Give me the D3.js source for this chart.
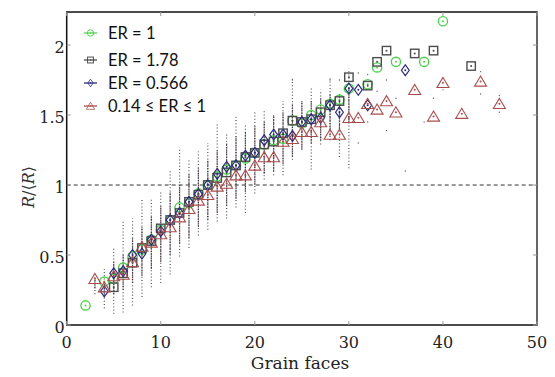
<!DOCTYPE html>
<html><head><meta charset="utf-8">
<script src="https://cdn.jsdelivr.net/npm/d3@7/dist/d3.min.js"></script>
<style>body{margin:0;background:#fff}svg{display:block}</style>
</head><body><svg id="c" width="555" height="377"></svg>
<script>
// ---------- data ----------
const xTicks = [0, 10, 20, 30, 40, 50];
const yTicks = [0, 0.5, 1, 1.5, 2];
const yTickLabels = ["0", "0.5", "1", "1.5", "2"];
const legendLabels = ["ER = 1", "ER = 1.78", "ER = 0.566", "0.14 \u2264 ER \u2264 1"];

const er1Faces = [2,4,5,6,7,8,9,10,11,12,13,14,15,16,17,18,19,20,21,22,23,24,25,26,27,28,29,30,32,33,35,38,40];
const er1Vals  = [0.14,0.31,0.33,0.41,0.49,0.54,0.61,0.68,0.75,0.84,0.87,0.94,1.00,1.06,1.11,1.14,1.19,1.23,1.29,1.32,1.33,1.46,1.44,1.50,1.54,1.58,1.61,1.69,1.72,1.84,1.88,1.88,2.17];

const er178Faces = [5,6,7,8,9,10,11,12,13,14,15,16,17,18,19,20,21,22,23,24,25,26,27,28,29,30,32,33,34,37,39,43];
const er178Vals  = [0.27,0.37,0.445,0.55,0.60,0.69,0.75,0.80,0.88,0.93,1.00,1.05,1.09,1.14,1.20,1.23,1.29,1.31,1.37,1.46,1.45,1.47,1.52,1.57,1.60,1.77,1.71,1.88,1.96,1.94,1.96,1.85];

const er566Faces = [4,5,6,7,8,9,10,11,12,13,14,15,16,17,18,19,20,21,22,23,24,25,26,27,28,29,30,31,32,36];
const er566Vals  = [0.24,0.37,0.385,0.50,0.51,0.61,0.67,0.75,0.80,0.88,0.935,1.00,1.08,1.13,1.14,1.21,1.23,1.32,1.36,1.36,1.35,1.45,1.47,1.48,1.57,1.52,1.69,1.68,1.57,1.82];

const rangeFaces = [3,4,5,6,7,8,9,10,11,12,13,14,15,16,17,18,19,20,21,22,23,24,25,26,27,28,29,30,31,32,33,34,35,37,39,40,42,44,46];
const rangeVals  = [0.33,0.27,0.35,0.36,0.45,0.56,0.59,0.65,0.70,0.77,0.83,0.89,0.93,0.99,1.01,1.07,1.07,1.14,1.20,1.20,1.31,1.33,1.38,1.38,1.45,1.36,1.36,1.48,1.48,1.58,1.54,1.60,1.52,1.68,1.49,1.73,1.51,1.74,1.58];

// individual-grain scatter columns (range of dots per face count)
const colFaces = [3,4,5,6,7,8,9,10,11,12,13,14,15,16,17,18,19,20,21,22,23,24,25,26,27,28,29,30];
const colLow   = [0.22,0.12,0.08,0.09,0.14,0.20,0.27,0.30,0.36,0.49,0.55,0.64,0.68,0.74,0.76,0.84,0.80,0.94,1.04,1.07,1.07,1.18,1.26,1.11,1.29,1.32,1.20,1.12];
const colHigh  = [0.36,0.40,0.56,0.74,0.76,0.90,0.91,0.96,1.10,1.27,1.18,1.24,1.30,1.44,1.36,1.49,1.44,1.52,1.54,1.50,1.60,1.76,1.60,1.70,1.68,1.77,1.61,1.83];
const coreLow  = [0.26,0.20,0.22,0.25,0.30,0.35,0.40,0.45,0.50,0.58,0.62,0.70,0.75,0.80,0.85,0.90,0.95,1.00,1.08,1.10,1.15,1.20,1.25,1.30,1.32,1.38,1.40,1.45];
const coreHigh = [0.33,0.32,0.45,0.50,0.62,0.70,0.78,0.85,0.95,1.00,1.08,1.12,1.18,1.25,1.30,1.35,1.38,1.42,1.45,1.50,1.52,1.58,1.60,1.60,1.62,1.65,1.65,1.70];
const sparseFaces = [24,28,29,31,31,32,32,33,34,34,36,39,40,44,44,46,46,35,38];
const sparseVals  = [1.75,1.75,1.75,1.80,1.30,1.79,1.45,1.67,1.75,1.39,1.10,1.62,1.68,1.81,1.65,1.64,1.52,1.62,1.45];

// ---------- layout ----------
const W = 555, H = 377;
const L = 66.7, R = 537, T = 12, B = 325;
const x = d3.scaleLinear().domain([0, 50]).range([L, R]);
const y = d3.scaleLinear().domain([0, 2.236]).range([B, T]);
const svg = d3.select("#c");
svg.append("rect").attr("width", W).attr("height", H).attr("fill", "#fff");

const serif = "'DejaVu Serif', serif";

// dashed reference line
svg.append("line").attr("x1", x(0)).attr("x2", x(50)).attr("y1", y(1)).attr("y2", y(1))
  .attr("stroke", "#333").attr("stroke-width", 1).attr("stroke-dasharray", "4,3");

// scatter columns
const gCols = svg.append("g");
colFaces.forEach((f, i) => {
  gCols.append("line").attr("x1", x(f)).attr("x2", x(f)).attr("y1", y(colLow[i])).attr("y2", y(colHigh[i]))
    .attr("stroke", "#555").attr("stroke-width", 1.2).attr("stroke-dasharray", "1,2.2");
  gCols.append("line").attr("x1", x(f)).attr("x2", x(f)).attr("y1", y(coreLow[i])).attr("y2", y(coreHigh[i]))
    .attr("stroke", "#3a2233").attr("stroke-width", 1.2).attr("stroke-dasharray", "1.6,0.8").attr("opacity", 0.8);
});
sparseFaces.forEach((f, i) => {
  gCols.append("circle").attr("cx", x(f)).attr("cy", y(sparseVals[i])).attr("r", 0.7).attr("fill", "#666");
});

// marker shapes
function drawMarker(g, kind, cx, cy, color) {
  if (kind === "circle") {
    g.append("circle").attr("cx", cx).attr("cy", cy).attr("r", 4.6)
      .attr("fill", "none").attr("stroke", color).attr("stroke-width", 1.4);
  } else if (kind === "square") {
    g.append("rect").attr("x", cx - 4.2).attr("y", cy - 4.2).attr("width", 8.4).attr("height", 8.4)
      .attr("fill", "none").attr("stroke", color).attr("stroke-width", 1.4);
  } else if (kind === "diamond") {
    g.append("path").attr("d", `M${cx},${cy-5.4}L${cx+3.9},${cy}L${cx},${cy+5.4}L${cx-3.9},${cy}Z`)
      .attr("fill", "none").attr("stroke", color).attr("stroke-width", 1.2);
  } else {
    g.append("path").attr("d", `M${cx},${cy-5.4}L${cx+6},${cy+4.7}L${cx-6},${cy+4.7}Z`)
      .attr("fill", "none").attr("stroke", color).attr("stroke-width", 1.1);
  }
  g.append("circle").attr("cx", cx).attr("cy", cy).attr("r", 1).attr("fill", color);
}

const series = [
  {faces: er1Faces, vals: er1Vals, kind: "circle", color: "#4fd24f"},
  {faces: er178Faces, vals: er178Vals, kind: "square", color: "#4d4d4d"},
  {faces: er566Faces, vals: er566Vals, kind: "diamond", color: "#2b2b7d"},
  {faces: rangeFaces, vals: rangeVals, kind: "triangle", color: "#a84c4c"}
];
const gM = svg.append("g");
series.forEach(s => {
  s.faces.forEach((f, i) => drawMarker(gM, s.kind, x(f), y(s.vals[i]), s.color));
});

// frame
svg.append("rect").attr("x", L).attr("y", T).attr("width", R - L).attr("height", B - T)
  .attr("fill", "none").attr("stroke", "#111").attr("stroke-width", 1.5);
svg.append("line").attr("x1", R).attr("x2", R).attr("y1", T).attr("y2", B).attr("stroke", "#666").attr("stroke-width", 2);

// ticks (inside)
xTicks.forEach(t => {
  svg.append("line").attr("x1", x(t)).attr("x2", x(t)).attr("y1", B).attr("y2", B - 4).attr("stroke", "#999");
  svg.append("line").attr("x1", x(t)).attr("x2", x(t)).attr("y1", T).attr("y2", T + 4).attr("stroke", "#999");
  svg.append("text").attr("x", x(t)).attr("y", B + 23).attr("text-anchor", "middle")
    .attr("font-family", serif).attr("font-size", 16).attr("fill", "#222").text(t);
});
yTicks.forEach((t, i) => {
  svg.append("line").attr("x1", L).attr("x2", L + 4).attr("y1", y(t)).attr("y2", y(t)).attr("stroke", "#999");
  svg.append("line").attr("x1", R).attr("x2", R - 4).attr("y1", y(t)).attr("y2", y(t)).attr("stroke", "#999");
  svg.append("text").attr("x", L - 2).attr("y", y(t) + 8).attr("text-anchor", "end")
    .attr("font-family", serif).attr("font-size", 16).attr("fill", "#222").text(yTickLabels[i]);
});

// axis labels
svg.append("text").attr("x", 300).attr("y", 369).attr("text-anchor", "middle")
  .attr("font-family", serif).attr("font-size", 17).attr("fill", "#222").text("Grain faces");
const yl = svg.append("text").attr("transform", "translate(34,187) rotate(-90)").attr("text-anchor", "middle")
  .attr("font-family", serif).attr("font-size", 16).attr("fill", "#333");
yl.append("tspan").attr("font-style", "italic").text("R");
yl.append("tspan").text("/\u27E8");
yl.append("tspan").attr("font-style", "italic").text("R");
yl.append("tspan").text("\u27E9");

// legend
const legY = [33, 60, 83, 106];
series.forEach((s, i) => {
  const g = svg.append("g");
  g.append("line").attr("x1", 84).attr("x2", 97).attr("y1", legY[i]).attr("y2", legY[i]).attr("stroke", s.color).attr("stroke-width", 1.3);
  const k = 0.7;
  const gg = g.append("g").attr("transform", `translate(${90.5*(1-k)},${legY[i]*(1-k)}) scale(${k})`);
  drawMarker(gg, s.kind, 90.5, legY[i], s.color);
  g.append("text").attr("x", 108).attr("y", legY[i] + 6).attr("font-family", "Lato, 'Open Sans', sans-serif")
    .attr("font-size", 16.5).attr("fill", "#111").text(legendLabels[i]);
});
</script>
</body></html>
